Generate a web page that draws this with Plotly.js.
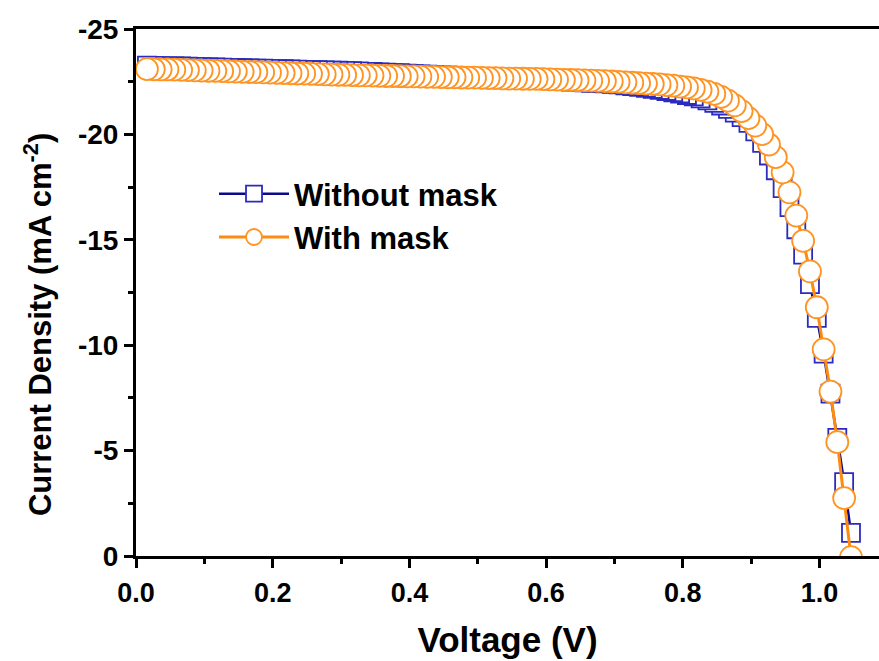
<!DOCTYPE html>
<html>
<head>
<meta charset="utf-8">
<script src="https://cdn.plot.ly/plotly-3.0.1.min.js"></script>
<style>
  html, body { margin: 0; padding: 0; background: #ffffff; }
  #chart { width: 879px; height: 661px; }
</style>
</head>
<body>
<div id="chart"></div>
<script>
// Voltage (V), reverse scan order: from Voc down to 0 V
const voltage = [1.046, 1.036, 1.026, 1.016, 1.006, 0.996, 0.986, 0.976, 0.966, 0.956,
  0.946, 0.936, 0.926, 0.916, 0.906, 0.896, 0.886, 0.876, 0.866, 0.856,
  0.846, 0.836, 0.826, 0.816, 0.806, 0.796, 0.786, 0.776, 0.766, 0.756,
  0.746, 0.736, 0.726, 0.716, 0.706, 0.696, 0.686, 0.676, 0.666, 0.656,
  0.646, 0.636, 0.626, 0.616, 0.606, 0.596, 0.586, 0.576, 0.566, 0.556,
  0.546, 0.536, 0.526, 0.516, 0.506, 0.496, 0.486, 0.476, 0.466, 0.456,
  0.446, 0.436, 0.426, 0.416, 0.406, 0.396, 0.386, 0.376, 0.366, 0.356,
  0.346, 0.336, 0.326, 0.316, 0.306, 0.296, 0.286, 0.276, 0.266, 0.256,
  0.246, 0.236, 0.226, 0.216, 0.206, 0.196, 0.186, 0.176, 0.166, 0.156,
  0.146, 0.136, 0.126, 0.116, 0.106, 0.096, 0.086, 0.076, 0.066, 0.056,
  0.046, 0.036, 0.026, 0.016];

// Current density (mA cm-2), without mask
const withoutMask = [-1.10, -3.50, -5.60, -7.70, -9.60, -11.30, -12.90, -14.30, -15.50, -16.55,
  -17.45, -18.30, -19.00, -19.60, -20.14, -20.55, -20.82, -21.03, -21.21, -21.37,
  -21.50, -21.61, -21.71, -21.80, -21.87, -21.94, -22.00, -22.06, -22.11, -22.16,
  -22.21, -22.25, -22.29, -22.33, -22.37, -22.40, -22.42, -22.43, -22.45, -22.47,
  -22.49, -22.51, -22.53, -22.54, -22.56, -22.57, -22.59, -22.60, -22.62, -22.63,
  -22.65, -22.66, -22.68, -22.69, -22.71, -22.72, -22.74, -22.75, -22.77, -22.79,
  -22.80, -22.82, -22.84, -22.85, -22.87, -22.88, -22.90, -22.91, -22.93, -22.94,
  -22.96, -22.97, -22.99, -23.00, -23.01, -23.02, -23.03, -23.04, -23.05, -23.05,
  -23.06, -23.07, -23.08, -23.09, -23.10, -23.11, -23.12, -23.12, -23.13, -23.14,
  -23.15, -23.16, -23.17, -23.18, -23.18, -23.19, -23.20, -23.21, -23.22, -23.22,
  -23.23, -23.24, -23.25, -23.26];

// Current density (mA cm-2), with mask
const withMask = [0.05, -2.75, -5.40, -7.80, -9.80, -11.80, -13.50, -14.95, -16.15, -17.25,
  -18.20, -18.92, -19.52, -20.01, -20.42, -20.77, -21.10, -21.38, -21.60, -21.78,
  -21.92, -22.03, -22.11, -22.18, -22.23, -22.27, -22.31, -22.34, -22.37, -22.39,
  -22.41, -22.43, -22.45, -22.47, -22.49, -22.51, -22.53, -22.54, -22.55, -22.56,
  -22.57, -22.58, -22.59, -22.60, -22.61, -22.62, -22.63, -22.63, -22.64, -22.65,
  -22.65, -22.66, -22.67, -22.67, -22.68, -22.69, -22.69, -22.70, -22.71, -22.71,
  -22.72, -22.73, -22.73, -22.74, -22.75, -22.75, -22.76, -22.77, -22.77, -22.78,
  -22.79, -22.80, -22.80, -22.81, -22.82, -22.83, -22.84, -22.85, -22.86, -22.87,
  -22.88, -22.89, -22.90, -22.91, -22.92, -22.93, -22.94, -22.95, -22.96, -22.97,
  -22.98, -22.99, -23.00, -23.01, -23.02, -23.03, -23.04, -23.05, -23.06, -23.07,
  -23.08, -23.08, -23.09, -23.10];

const seriesNames = ['Without mask', 'With mask'];
const xTickVals = [0, 0.2, 0.4, 0.6, 0.8, 1.0];
const xTickText = ['0.0', '0.2', '0.4', '0.6', '0.8', '1.0'];
const yTickVals = [-25, -20, -15, -10, -5, 0];
const yTickText = ['-25', '-20', '-15', '-10', '-5', '0'];
const xTitle = 'Voltage (V)';
const yTitle = 'Current Density (mA cm<sup>-2</sup>)';

const font = 'Arial, "Liberation Sans", sans-serif';

const traces = [
  {
    x: voltage, y: withoutMask, name: seriesNames[0],
    type: 'scatter', mode: 'lines+markers',
    line: { color: '#0a0a8c', width: 2.5 },
    marker: { symbol: 'square', size: 18, color: '#ffffff',
              line: { color: '#2b2bc0', width: 1.8 } }
  },
  {
    x: voltage, y: withMask, name: seriesNames[1],
    type: 'scatter', mode: 'lines+markers',
    line: { color: '#ff8a10', width: 3 },
    marker: { symbol: 'circle', size: 22, color: '#ffffff',
              line: { color: '#ff9422', width: 1.8 } }
  }
];

const layout = {
  width: 879, height: 661,
  margin: { l: 136, r: 0, t: 29, b: 105 },
  paper_bgcolor: '#ffffff', plot_bgcolor: '#ffffff',
  font: { family: font, color: '#000000' },
  showlegend: true,
  legend: {
    x: 0.105, y: 0.738, xanchor: 'left', yanchor: 'top',
    bgcolor: 'rgba(0,0,0,0)', borderwidth: 0,
    font: { family: font, size: 31, color: '#000000', weight: 'bold' },
    itemwidth: 70, tracegroupgap: 0
  },
  xaxis: {
    range: [0, 1.087], showgrid: false, zeroline: false,
    showline: true, linecolor: '#000000', linewidth: 3, mirror: true,
    ticks: 'outside', ticklen: 9, tickwidth: 3, tickcolor: '#000000',
    tickvals: xTickVals, ticktext: xTickText, ticklabelstandoff: 2,
    tickfont: { family: font, size: 27, color: '#000000', weight: 'bold' },
    minor: { dtick: 0.1, tick0: 0, ticks: 'outside', ticklen: 5, tickwidth: 3, tickcolor: '#000000', showgrid: false },
    title: { text: xTitle, font: { family: font, size: 35, color: '#000000', weight: 'bold' }, standoff: 21 }
  },
  yaxis: {
    range: [0, -25], showgrid: false, zeroline: false,
    showline: true, linecolor: '#000000', linewidth: 3, mirror: false,
    ticks: 'outside', ticklen: 9, tickwidth: 3, tickcolor: '#000000',
    tickvals: yTickVals, ticktext: yTickText,
    tickfont: { family: font, size: 28, color: '#000000', weight: 'bold' },
    minor: { dtick: 2.5, tick0: 0, ticks: 'outside', ticklen: 5, tickwidth: 3, tickcolor: '#000000', showgrid: false }
  },
  annotations: [
    {
      text: yTitle, textangle: -90, showarrow: false,
      xref: 'paper', yref: 'paper', x: -0.1319, y: 0.440,
      xanchor: 'center', yanchor: 'middle',
      font: { family: font, size: 31, color: '#000000', weight: 'bold' }
    }
  ]
};

Plotly.newPlot('chart', traces, layout, { displayModeBar: false, staticPlot: true });
</script>
</body>
</html>
